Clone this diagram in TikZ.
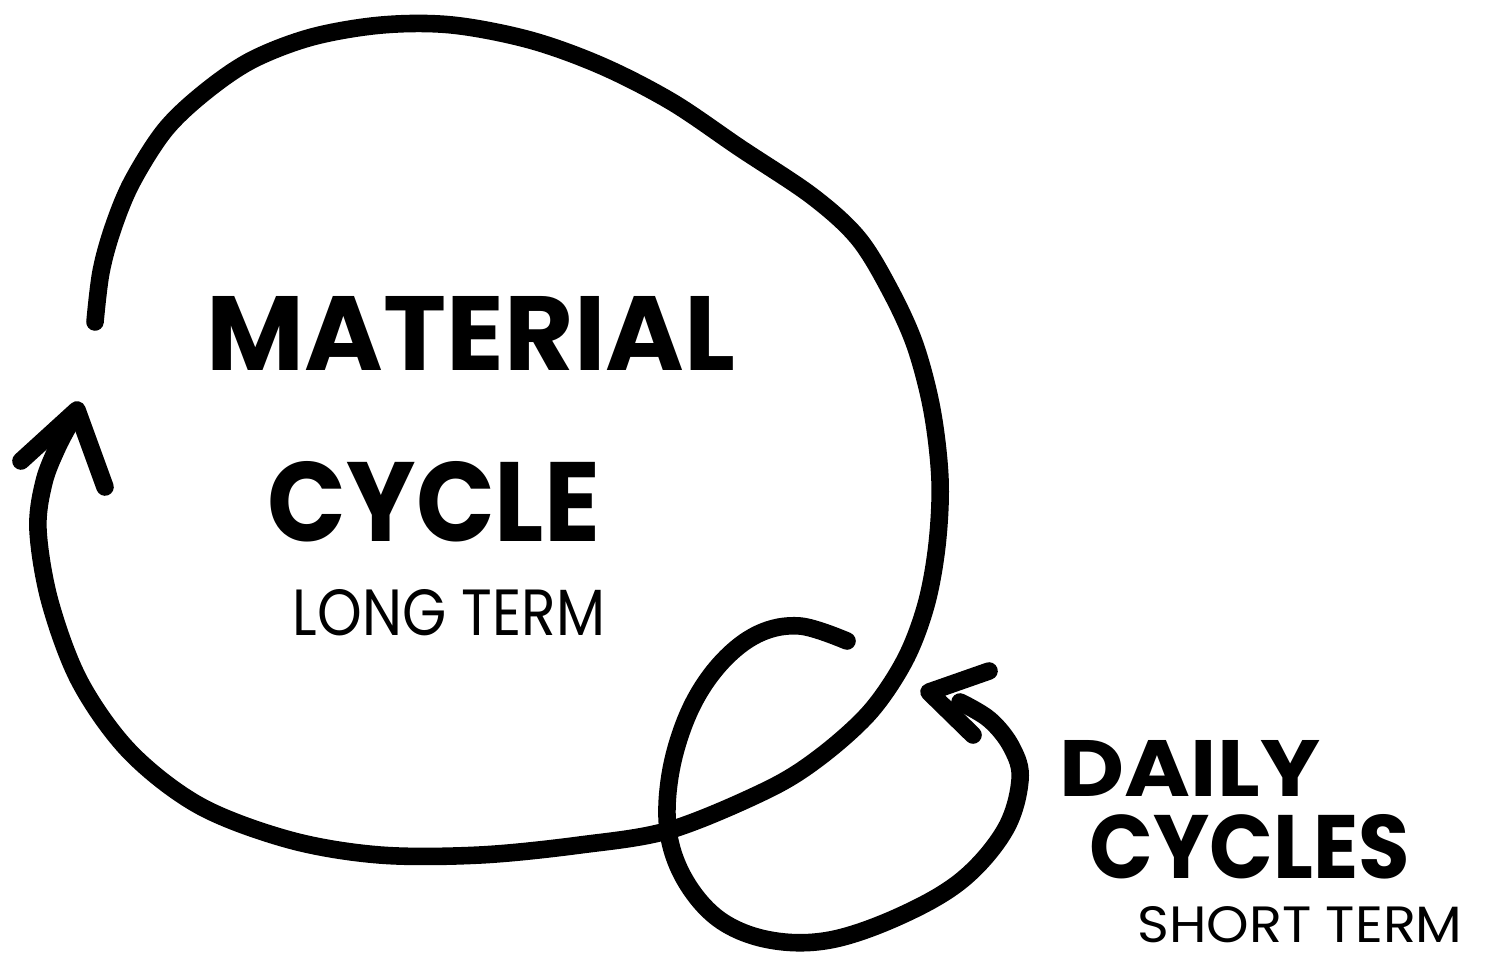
\documentclass[tikz,border=0pt]{standalone}
\usepackage{fontspec}
\setmainfont{Poppins}
\usepackage{graphicx}
\begin{document}
\begin{tikzpicture}[x=0.01cm,y=-0.01cm,
  stroke/.style={line width=5pt,line cap=round,line join=round,black},
  label/.style={inner sep=0pt,outer sep=0pt,anchor=center}]
\useasboundingbox (0,0) rectangle (1486,958);
% named points
\coordinate (bigstart) at (95,322);
\coordinate (bigtip) at (77,410);
\coordinate (bigbarbL) at (21,461);
\coordinate (bigbarbR) at (105,487);
\coordinate (smallstart) at (847,641);
\coordinate (smalltip) at (929,692);
\coordinate (smallbarbU) at (989,671);
\coordinate (smallbarbD) at (973,735);
% big loop
\draw[stroke] plot[smooth,tension=0.55] coordinates {
 (95,322) (101,272) (113,228) (132,182) (165,130) (205,92) (252,60) (312,37)
 (382,25) (452,25) (530,40) (602,66) (672,102) (740,148) (812,196) (858,238)
 (890,290) (915,345) (932,410) (940,480) (937,545) (926,605) (905,660)
 (870,712) (820,757) (767,790) (670,830) (580,845) (480,855) (380,855) (290,840)
 (200,806) (130,752) (80,682) (50,602) (38,530) (44,482) (58,446) (72,420)};
\draw[stroke] (bigbarbL) -- (bigtip) -- (bigbarbR);
% small loop
\draw[stroke] plot[smooth,tension=0.6] coordinates {
 (847,641) (800,626) (758,634) (720,664) (690,710) (671,770) (668,830)
 (685,880) (720,920) (770,940) (830,940) (900,916) (962,880) (1005,830)
 (1020,780) (1012,748) (990,720) (960,702)};
\draw[stroke] (smallbarbU) -- (smalltip) -- (smallbarbD);
% texts
\node[label] (material) at (471,333) {\resizebox{5.28cm}{0.74cm}{\bfseries MATERIAL}};
\node[label] (cycle) at (434,502) {\resizebox{3.32cm}{0.80cm}{\bfseries CYCLE}};
\node[label] (longterm) at (449,613) {\resizebox{3.12cm}{0.46cm}{\fontseries{m}\selectfont LONG TERM}};
\node[label] (daily) at (1190,768) {\resizebox{2.60cm}{0.56cm}{\bfseries DAILY}};
\node[label] (cycles) at (1250,847) {\resizebox{3.20cm}{0.64cm}{\bfseries CYCLES}};
\node[label] (shortterm) at (1300,925) {\resizebox{3.25cm}{0.36cm}{\fontseries{m}\selectfont SHORT TERM}};
\end{tikzpicture}
\end{document}
